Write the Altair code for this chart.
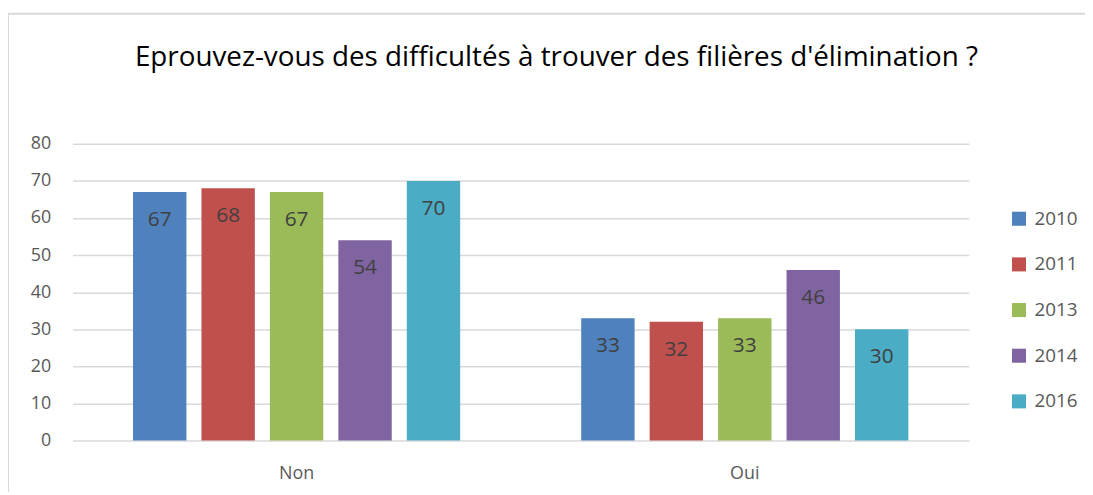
import altair as alt
import pandas as pd

categories = ["Non", "Oui"]
years = ["2010", "2011", "2013", "2014", "2016"]
non_values = [67, 68, 67, 54, 70]
oui_values = [33, 32, 33, 46, 30]
colors = ["#4F81BD", "#C0504D", "#9BBB59", "#8064A2", "#4BACC6"]
title_text = "Eprouvez-vous des difficultés à trouver des filières d'élimination ?"

rows = []
for y, v in zip(years, non_values):
    rows.append({"cat": "Non", "year": y, "value": v})
for y, v in zip(years, oui_values):
    rows.append({"cat": "Oui", "year": y, "value": v})
df = pd.DataFrame(rows)

FONT = "Open Sans"

x = alt.X("cat:N", sort=categories, title=None,
          scale=alt.Scale(paddingInner=0.27, paddingOuter=0.135),
          axis=alt.Axis(labelAngle=0, labelFontSize=18, labelColor="#595959",
                        labelFont=FONT, ticks=False, domain=False, labelPadding=24))
xo = alt.XOffset("year:N", sort=years,
                 scale=alt.Scale(paddingInner=0.22, paddingOuter=0.0))
y = alt.Y("value:Q", title=None,
          scale=alt.Scale(domain=[0, 80]),
          axis=alt.Axis(values=list(range(0, 81, 10)), labelFontSize=18,
                        labelColor="#595959", labelFont=FONT, ticks=False,
                        domain=False, labelPadding=22, gridColor="#D9D9D9",
                        gridWidth=1.5, labelOverlap=False))

base = alt.Chart(df)
bars = base.mark_bar().encode(
    x=x, xOffset=xo, y=y,
    color=alt.Color("year:N", sort=years,
                    scale=alt.Scale(domain=years, range=colors),
                    legend=alt.Legend(title=None, symbolType="square",
                                      symbolSize=200, symbolStrokeWidth=0,
                                      labelFontSize=19, labelColor="#595959",
                                      labelFont=FONT, rowPadding=26,
                                      orient="none", legendX=944, legendY=66,
                                      padding=0, labelOffset=6)),
)
labels = base.mark_text(dy=28, fontSize=21, color="#404040", font=FONT).encode(
    x=x, xOffset=xo, y=y, text="value:Q",
)

frame = alt.Chart(pd.DataFrame({"f": [0]})).mark_rect(
    fill=None, stroke="#D9D9D9", strokeWidth=2
).encode(
    x=alt.value(-65), x2=alt.value(1100), y=alt.value(-131), y2=alt.value(400)
)

chart = (frame + bars + labels).properties(
    width=903, height=299,
    title=alt.TitleParams(title_text, fontSize=28, font=FONT, fontWeight="normal",
                          color="#000000", offset=-60, dx=36),
    padding={"left": 65, "top": 135, "right": 117, "bottom": 50},
    autosize=alt.AutoSizeParams(type="none"),
).configure_view(strokeWidth=0)

chart.save("out.html", embed_options={"renderer": "svg", "actions": False})
